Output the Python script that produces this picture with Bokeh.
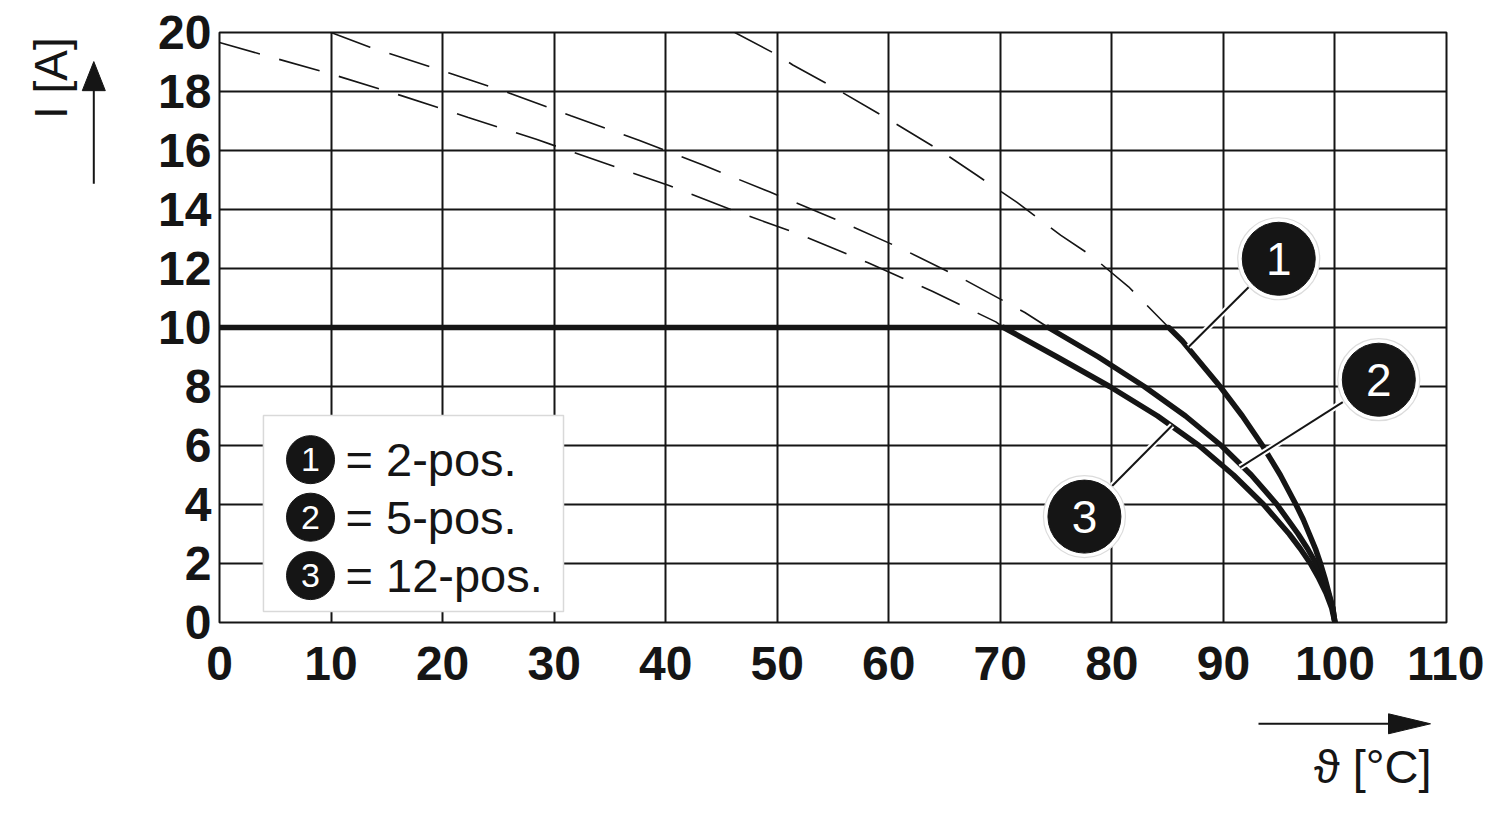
from math import pi
from bokeh.plotting import figure
from bokeh.models import Range1d, FixedTicker
from bokeh.layouts import row, column
from bokeh.core.properties import value
from bokeh.embed import file_html
from bokeh.resources import INLINE

# ---- axis ticks / labels ----
x_ticks = [0, 10, 20, 30, 40, 50, 60, 70, 80, 90, 100, 110]
x_tick_labels = ["0", "10", "20", "30", "40", "50", "60", "70", "80", "90", "100", "110"]
y_ticks = [0, 2, 4, 6, 8, 10, 12, 14, 16, 18, 20]
y_tick_labels = ["0", "2", "4", "6", "8", "10", "12", "14", "16", "18", "20"]
x_title = "\u03d1 [\u00b0C]"
y_title = "I [A]"

# ---- series: dashed (theoretical) parts ----
temp_c1_dash = [46.2, 49.9, 51.4, 55.0, 60.0, 64.6, 67.9, 71.5, 75.4, 78.1, 81.5, 85.1]
cur_c1_dash = [20.0, 19.26, 18.9, 18.15, 17.05, 16.0, 15.16, 14.24, 13.13, 12.45, 11.38, 10.0]
temp_c2_dash = [10.0, 13.5, 19.6, 25.6, 31.5, 37.6, 43.4, 49.3, 55.1, 61.0, 66.7, 72.2, 74.3]
cur_c2_dash = [20.0, 19.5, 18.75, 18.0, 17.18, 16.35, 15.5, 14.6, 13.69, 12.7, 11.64, 10.51, 10.0]
temp_c3_dash = [0.0, 10.2, 16.3, 22.3, 28.4, 34.3, 40.3, 46.2, 52.2, 58.1, 63.9, 69.6, 70.3]
cur_c3_dash = [19.66, 18.57, 17.86, 17.12, 16.38, 15.6, 14.81, 13.95, 13.13, 12.2, 11.23, 10.19, 10.0]

# ---- series: solid (derating) parts ----
temp_c1 = [0.0, 85.1, 86.3, 87.5, 89.7, 91.7, 93.5, 95.1, 96.5, 97.15, 97.7, 98.25, 98.7, 99.1, 99.45, 99.8, 100.0]
cur_c1 = [10.0, 10.0, 9.55, 9.0, 8.0, 7.0, 6.0, 5.0, 4.0, 3.5, 3.0, 2.5, 2.0, 1.5, 1.0, 0.5, 0.0]
temp_c2 = [74.3, 78.8, 82.9, 86.6, 89.8, 92.5, 94.8, 96.7, 97.55, 98.3, 98.9, 99.4, 99.8, 100.0]
cur_c2 = [10.0, 9.0, 8.0, 7.0, 6.0, 5.0, 4.0, 3.0, 2.5, 2.0, 1.5, 1.0, 0.5, 0.0]
temp_c3 = [70.3, 75.1, 79.8, 84.1, 87.8, 90.9, 93.6, 95.9, 96.9, 97.8, 98.55, 99.2, 99.7, 100.0]
cur_c3 = [10.0, 9.0, 8.0, 7.0, 6.0, 5.0, 4.0, 3.0, 2.5, 2.0, 1.5, 1.0, 0.5, 0.0]

# ---- legend / callouts ----
curve_numbers = ["1", "2", "3"]
legend_texts = ["= 2-pos.", "= 5-pos.", "= 12-pos."]

INK = "#151515"
FONT = "Liberation Sans"

# pixel geometry of the layout
LEFT_W = 120
TOTAL_W = 1484
MAIN_H = 710
BOTTOM_H = 89
FRAME_L, FRAME_T, FRAME_W, FRAME_H = 219, 32, 1227, 590
PX_X = FRAME_W / 110.0   # px per degree
PX_Y = FRAME_H / 20.0    # px per ampere


def xdata(px):
    return (px - FRAME_L) / PX_X


def ydata(py):
    return 20.0 - (py - FRAME_T) / PX_Y


# ---------------- main chart ----------------
p = figure(width=TOTAL_W - LEFT_W, height=MAIN_H,
           x_range=Range1d(0, 110), y_range=Range1d(0, 20),
           output_backend="svg", toolbar_location=None,
           min_border_left=FRAME_L - LEFT_W, min_border_right=TOTAL_W - FRAME_L - FRAME_W,
           min_border_top=FRAME_T, min_border_bottom=MAIN_H - FRAME_T - FRAME_H)
p.background_fill_color = "white"
p.border_fill_color = "white"
p.outline_line_color = INK
p.outline_line_width = 2

for ax, ticks, labels, standoff in ((p.xaxis[0], x_ticks, x_tick_labels, 18),
                                    (p.yaxis[0], y_ticks, y_tick_labels, 2)):
    ax.ticker = FixedTicker(ticks=ticks)
    ax.major_label_overrides = {t: l for t, l in zip(ticks, labels)}
    ax.axis_line_color = None
    ax.major_tick_line_color = None
    ax.minor_tick_line_color = None
    ax.major_label_text_font = FONT
    ax.major_label_text_font_style = "bold"
    ax.major_label_text_font_size = "48px"
    ax.major_label_text_color = INK
    ax.major_label_standoff = standoff

p.xgrid.ticker = FixedTicker(ticks=x_ticks)
p.ygrid.ticker = FixedTicker(ticks=y_ticks)
for g in (p.xgrid[0], p.ygrid[0]):
    g.grid_line_color = INK
    g.grid_line_width = 2
    g.grid_line_alpha = 1.0

# dashed extrapolations
for xs, ys in ((temp_c1_dash, cur_c1_dash), (temp_c2_dash, cur_c2_dash), (temp_c3_dash, cur_c3_dash)):
    p.line(xs, ys, line_color=INK, line_width=1.6, line_dash="42 20")

# solid derating curves
for xs, ys in ((temp_c3, cur_c3), (temp_c2, cur_c2), (temp_c1, cur_c1)):
    p.line(xs, ys, line_color=INK, line_width=5.5, line_join="round", line_cap="round")

# legend box
p.quad(left=[3.94], right=[30.84], bottom=[0.37], top=[7.02],
       fill_color="white", line_color="#d9d9d9", line_width=1.5)
leg_y = [5.52, 3.57, 1.59]
p.scatter([8.16] * 3, leg_y, size=48, fill_color=INK, line_color=INK)
p.text([8.16] * 3, leg_y, text=curve_numbers, text_color="white",
       text_font=value(FONT), text_font_size="34px", text_align="center", text_baseline="middle")
p.text([11.3] * 3, leg_y, text=legend_texts, text_color=INK,
       text_font=value(FONT), text_font_size="47px", text_align="left", text_baseline="middle")

# callout leader lines (white halo + black line)
lead_x0 = [86.9, 91.5, 85.4]
lead_y0 = [9.35, 5.26, 6.68]
lead_x1 = [92.3, 100.7, 80.0]
lead_y1 = [11.38, 7.47, 4.62]
p.segment(lead_x0, lead_y0, lead_x1, lead_y1, line_color="white", line_width=6)
p.segment(lead_x0, lead_y0, lead_x1, lead_y1, line_color=INK, line_width=2)

# callout circles
cx = [94.96, 103.93, 77.54]
cy = [12.33, 8.23, 3.59]
p.scatter(cx, cy, size=82, fill_color="white", line_color="#dcdcdc", line_width=1.2)
p.scatter(cx, cy, size=73, fill_color=INK, line_color=INK)
p.text(cx, cy, text=curve_numbers, text_color="white", text_font=value(FONT),
       text_font_size="46px", text_align="center", text_baseline="middle")

# ---------------- left strip: y title + arrow ----------------
left = figure(width=LEFT_W, height=MAIN_H,
              x_range=Range1d(xdata(0), xdata(LEFT_W)),
              y_range=Range1d(ydata(MAIN_H), ydata(0)),
              output_backend="svg", toolbar_location=None,
              x_axis_location=None, y_axis_location=None, min_border=0)
left.outline_line_color = None
left.grid.visible = False
left.text([xdata(50)], [ydata(55)], text=[y_title], angle=pi / 2, text_color=INK,
          text_font=value(FONT), text_font_size="46px",
          text_align="center", text_baseline="middle")
ax_x = xdata(93.3)
left.segment([ax_x], [ydata(182)], [ax_x], [ydata(60)], line_color=INK, line_width=2)
left.patch([ax_x, ax_x - 11.5 / PX_X, ax_x + 11.5 / PX_X],
           [ydata(35), ydata(70), ydata(70)], fill_color=INK, line_color=INK)

# ---------------- bottom strip: x title + arrow ----------------
bottom = figure(width=TOTAL_W, height=BOTTOM_H,
                x_range=Range1d(xdata(0), xdata(TOTAL_W)),
                y_range=Range1d(ydata(MAIN_H + BOTTOM_H), ydata(MAIN_H)),
                output_backend="svg", toolbar_location=None,
                x_axis_location=None, y_axis_location=None, min_border=0)
bottom.outline_line_color = None
bottom.grid.visible = False
ay = ydata(723.3)
bottom.segment([xdata(1258)], [ay], [xdata(1400)], [ay], line_color=INK, line_width=2)
bottom.patch([xdata(1430), xdata(1388), xdata(1388)],
             [ay, ay + 10 / PX_Y, ay - 10 / PX_Y], fill_color=INK, line_color=INK)
bottom.text([xdata(1431)], [ydata(766)], text=[x_title], text_color=INK,
            text_font=value(FONT), text_font_size="47px",
            text_align="right", text_baseline="middle")

layout = column(row(left, p, spacing=0), bottom, spacing=0)
open("out.html", "w").write(file_html(layout, INLINE))
